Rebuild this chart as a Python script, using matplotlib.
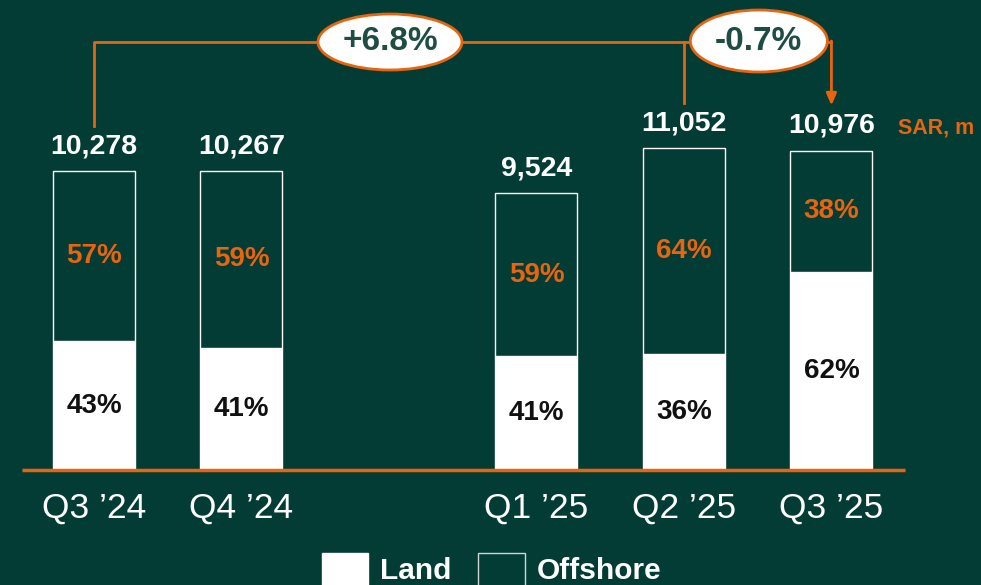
import matplotlib
matplotlib.use("Agg")
import matplotlib.pyplot as plt
from matplotlib.patches import Ellipse, Patch

plt.rcParams['font.family'] = ['Liberation Sans', 'DejaVu Sans']

bg = "#023c34"
orange = "#e8640f"
green_txt = "#1f4d43"

quarters = ["Q3 \u201924", "Q4 \u201924", "Q1 \u201925", "Q2 \u201925", "Q3 \u201925"]
xpos = [0, 1, 3, 4, 5]
totals = [10278, 10267, 9524, 11052, 10976]
land_pct = [43, 41, 41, 36, 62]
offshore_pct = [57, 59, 59, 64, 38]
growth_labels = ["+6.8%", "-0.7%"]

fig = plt.figure(figsize=(9.81, 5.85), dpi=100, facecolor=bg)
ax = fig.add_axes([0, 0, 1, 1])
ax.set_facecolor(bg)
ax.set_xlim(-0.637, 6.014)
ax.set_ylim(-3952, 16151)
ax.axis("off")

w = 0.556
land = [t * p / 100 for t, p in zip(totals, land_pct)]
off = [t - l for t, l in zip(totals, land)]

ax.bar(xpos, land, w, color="white", edgecolor="white", linewidth=1)
ax.bar(xpos, off, w, bottom=land, color=bg, edgecolor="white", linewidth=1)

for x, t, l, o, lp, op in zip(xpos, totals, land, off, land_pct, offshore_pct):
    ax.text(x, t + 400, f"{t:,}", ha="center", va="bottom", color="white",
            fontsize=20.5, fontweight="bold")
    ax.text(x, l / 2, f"{lp}%", ha="center", va="center", color="#111111",
            fontsize=20, fontweight="bold")
    ax.text(x, l + o / 2, f"{op}%", ha="center", va="center", color=orange,
            fontsize=20, fontweight="bold")

# baseline
ax.plot([-0.49, 5.5], [0, 0], color=orange, lw=2.5, solid_capstyle="butt")

# category labels
for x, q in zip(xpos, quarters):
    ax.text(x, -1300, q, ha="center", va="center", color="white", fontsize=25.5)

# growth brackets
top = 14708
gap = 1550
ax.plot([xpos[0], xpos[0], xpos[4]], [totals[0] + gap, top, top],
        color=orange, lw=2)
ax.plot([xpos[3], xpos[3]], [totals[3] + gap, top], color=orange, lw=2)
ax.annotate("", xy=(xpos[4], totals[4] + gap), xytext=(xpos[4], top + 35),
            arrowprops=dict(arrowstyle="-|>,head_length=0.7,head_width=0.3",
                            color=orange, lw=2, shrinkA=0, shrinkB=0))

for cx, cy, ew, eh, lab in [(2.007, 14708, 0.976, 1924, growth_labels[0]),
                            (4.508, 14742, 0.929, 2131, growth_labels[1])]:
    ax.add_patch(Ellipse((cx, cy), ew, eh, facecolor="white", edgecolor=orange,
                         lw=2, zorder=5))
    ax.text(cx, cy, lab, ha="center", va="center", color=green_txt,
            fontsize=24, fontweight="bold", zorder=6)

fig.text(898 / 981, 1 - 128 / 585, "SAR, m", ha="left", va="center",
         color=orange, fontsize=15.5, fontweight="bold")

# legend (sits low, squares run off the bottom edge like the original)
handles = [Patch(facecolor="white", edgecolor="white", label="Land"),
           Patch(facecolor=bg, edgecolor="#cfd8d5", label="Offshore")]
leg = fig.legend(handles=handles, loc="upper left", ncol=2,
                 bbox_to_anchor=(322 / 981, 1 - 553 / 585), frameon=False,
                 fontsize=21.5, handlelength=1.55, handleheight=1.3,
                 handletextpad=0.4, columnspacing=0.9, borderpad=0,
                 borderaxespad=0)
for t in leg.get_texts():
    t.set_color("white")
    t.set_fontweight("bold")

fig.savefig("out.png", dpi=100, facecolor=bg)
